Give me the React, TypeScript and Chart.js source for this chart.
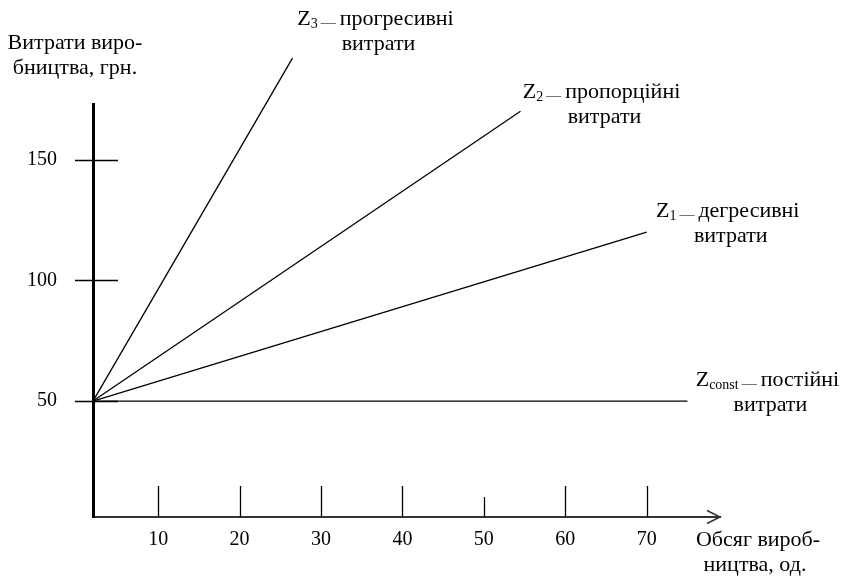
import React, { useEffect, useRef } from "react";
import { Chart, registerables } from "chart.js";

Chart.register(...registerables);

// ---- data ----
const X_TICKS = [10, 20, 30, 40, 50, 60, 70];
const Y_TICKS = [50, 100, 150];
const X_MIN = 2;
const X_MAX = 79;
const Y_MIN = 2;
const Y_MAX = 173;

const Z_CONST = [
  { x: 2, y: 50 },
  { x: 75, y: 50 },
];
const Z1 = [
  { x: 2, y: 50 },
  { x: 70, y: 120 },
];
const Z2 = [
  { x: 2, y: 50 },
  { x: 54.5, y: 170 },
];
const Z3 = [
  { x: 2, y: 50 },
  { x: 26.5, y: 192 },
];

const SERIES_SUBS = ["3", "2", "1", "const"];
const SERIES_WORDS = ["прогресивні", "пропорційні", "дегресивні", "постійні"];
const SERIES_LINE2 = "витрати";
const Y_TITLE = ["Витрати виро-", "бництва, грн."];
const X_TITLE = ["Обсяг вироб-", "ництва, од."];

const FONT = "'Liberation Serif', 'Times New Roman', serif";
const TEXT_SIZE = 22;

// label placement relative to each series' end point (style, not data)
const LABEL_OFFSETS = [
  { dx: 83, dy: -33 },
  { dx: 81, dy: -13 },
  { dx: 81, dy: -15 },
  { dx: 80, dy: -15 },
];

const decorPlugin = {
  id: "decor",
  afterDraw(chart: any) {
    const ctx = chart.ctx;
    const xs = chart.scales.x;
    const ys = chart.scales.y;
    const area = chart.chartArea;
    const x0 = area.left;
    const yb = area.bottom;
    ctx.save();
    ctx.strokeStyle = "#000";
    ctx.lineWidth = 1.3;
    // y tick marks
    Y_TICKS.forEach((v) => {
      const py = Math.round(ys.getPixelForValue(v)) + 0.5;
      ctx.beginPath();
      ctx.moveTo(x0 - 18, py);
      ctx.lineTo(x0 + 25, py);
      ctx.stroke();
    });
    // x tick marks (inward)
    X_TICKS.forEach((v) => {
      const px = Math.round(xs.getPixelForValue(v)) + 0.5;
      const len = v === 50 ? 20 : 31;
      ctx.beginPath();
      ctx.moveTo(px, yb);
      ctx.lineTo(px, yb - len);
      ctx.stroke();
    });
    // arrow head
    ctx.strokeStyle = "#333";
    ctx.lineWidth = 1.5;
    ctx.beginPath();
    ctx.moveTo(area.right - 13, yb - 6.5);
    ctx.lineTo(area.right, yb);
    ctx.lineTo(area.right - 13, yb + 6.5);
    ctx.stroke();

    // text
    ctx.fillStyle = "#000";
    ctx.textBaseline = "alphabetic";
    ctx.textAlign = "center";
    ctx.font = `${TEXT_SIZE}px ${FONT}`;
    ctx.fillText(Y_TITLE[0], 75, 49);
    ctx.fillText(Y_TITLE[1], 75, 74);
    ctx.fillText(X_TITLE[0], 758, 546);
    ctx.fillText(X_TITLE[1], 755, 571);

    // series labels
    const ends = [Z3, Z2, Z1, Z_CONST].map((s) => s[s.length - 1]);
    ends.forEach((p, i) => {
      const ex = xs.getPixelForValue(p.x);
      const ey = ys.getPixelForValue(p.y);
      const cx = ex + LABEL_OFFSETS[i].dx;
      const by = ey + LABEL_OFFSETS[i].dy;
      ctx.textAlign = "left";
      ctx.font = `${TEXT_SIZE}px ${FONT}`;
      const wZ = ctx.measureText("Z").width;
      const wW = ctx.measureText(SERIES_WORDS[i]).width;
      ctx.font = `14px ${FONT}`;
      const wS = ctx.measureText(SERIES_SUBS[i]).width;
      ctx.font = `15px ${FONT}`;
      const wD = ctx.measureText("—").width;
      const g1 = 3;
      const g2 = 4;
      const total = wZ + wS + g1 + wD + g2 + wW;
      let x = cx - total / 2;
      ctx.font = `${TEXT_SIZE}px ${FONT}`;
      ctx.fillText("Z", x, by);
      x += wZ;
      ctx.font = `14px ${FONT}`;
      ctx.fillText(SERIES_SUBS[i], x, by + 3);
      x += wS + g1;
      ctx.fillStyle = "#444";
      ctx.font = `15px ${FONT}`;
      ctx.fillText("—", x, by + 2);
      ctx.fillStyle = "#000";
      x += wD + g2;
      ctx.font = `${TEXT_SIZE}px ${FONT}`;
      ctx.fillText(SERIES_WORDS[i], x, by);
      ctx.textAlign = "center";
      ctx.fillText(SERIES_LINE2, cx + 3, by + 25);
    });
    ctx.restore();
  },
};

export default function App() {
  const ref = useRef<HTMLCanvasElement | null>(null);

  useEffect(() => {
    if (!ref.current) return;
    const lineStyle = {
      borderColor: "#000",
      borderWidth: 1.3,
      pointRadius: 0,
      pointHoverRadius: 0,
      tension: 0,
      fill: false,
      clip: false as any,
    };
    const chart = new Chart(ref.current, {
      type: "line",
      data: {
        datasets: [
          { label: "Z3", data: Z3, ...lineStyle },
          { label: "Z2", data: Z2, ...lineStyle },
          { label: "Z1", data: Z1, ...lineStyle },
          { label: "Zconst", data: Z_CONST, ...lineStyle },
        ],
      },
      options: {
        animation: false,
        responsive: true,
        maintainAspectRatio: false,
        layout: { padding: { top: 104, right: 126, bottom: 0, left: 0 } },
        plugins: {
          legend: { display: false },
          tooltip: { enabled: false },
          title: { display: false },
        },
        scales: {
          x: {
            type: "linear",
            min: X_MIN,
            max: X_MAX,
            afterFit: (s: any) => {
              s.height = 59;
            },
            afterBuildTicks: (s: any) => {
              s.ticks = X_TICKS.map((v) => ({ value: v }));
            },
            grid: { display: true, drawOnChartArea: false, drawTicks: false },
            border: { display: true, color: "#333", width: 2 },
            ticks: {
              padding: 11,
              color: "#000",
              font: { family: FONT, size: 20 },
              maxRotation: 0,
              autoSkip: false,
              callback: (v: any) => String(v),
            },
          },
          y: {
            type: "linear",
            min: Y_MIN,
            max: Y_MAX,
            afterFit: (s: any) => {
              s.width = 93;
            },
            afterBuildTicks: (s: any) => {
              s.ticks = Y_TICKS.map((v) => ({ value: v }));
            },
            grid: { display: true, drawOnChartArea: false, drawTicks: false },
            border: { display: true, color: "#000", width: 3 },
            ticks: {
              padding: 36,
              color: "#000",
              font: { family: FONT, size: 20 },
              autoSkip: false,
              callback: (v: any) => String(v),
            },
          },
        },
      },
      plugins: [decorPlugin],
    });
    return () => chart.destroy();
  }, []);

  return (
    <div
      style={{
        position: "absolute",
        left: 0,
        top: 0,
        width: 846,
        height: 576,
        background: "#fff",
      }}
    >
      <canvas ref={ref} />
    </div>
  );
}
